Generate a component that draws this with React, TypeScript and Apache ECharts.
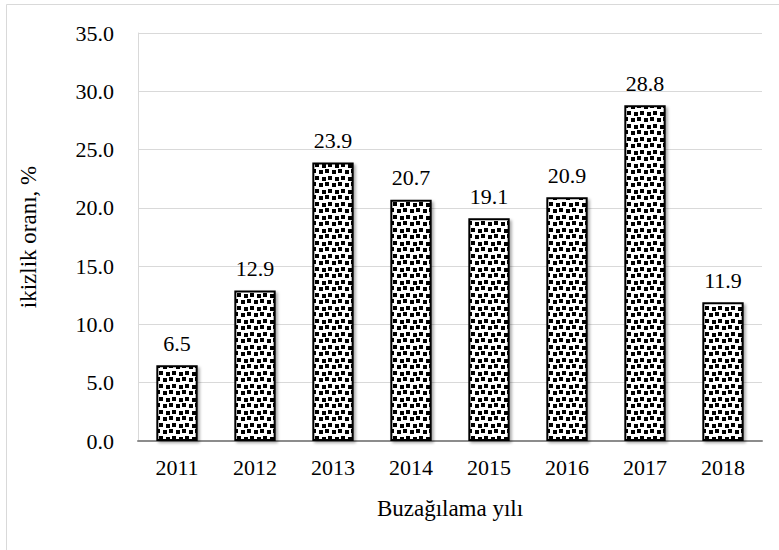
import React, { useEffect, useRef } from "react";
import * as echarts from "echarts";

const categories = ["2011", "2012", "2013", "2014", "2015", "2016", "2017", "2018"];
const values = [6.5, 12.9, 23.9, 20.7, 19.1, 20.9, 28.8, 11.9];
const yAxisTitle = "ikizlik oranı, %";
const xAxisTitle = "Buzağılama yılı";

const FONT = "'Liberation Serif', 'Times New Roman', serif";

function makePattern(): HTMLCanvasElement {
  const T = 13;
  const c = document.createElement("canvas");
  c.width = T;
  c.height = T;
  const ctx = c.getContext("2d")!;
  ctx.fillStyle = "#ffffff";
  ctx.fillRect(0, 0, T, T);
  ctx.fillStyle = "#000000";
  const sq = [
    [0, 0],
    [7, 1],
    [3, 7],
    [10, 8],
  ];
  sq.forEach(([x, y]) => {
    ctx.fillRect(x, y, 4, 4);
    if (x + 4 > T) ctx.fillRect(x - T, y, 4, 4);
  });
  return c;
}

export default function App() {
  const ref = useRef<HTMLDivElement>(null);
  useEffect(() => {
    document.body.style.margin = "0";
    const chart = echarts.init(ref.current!, null, { renderer: "svg" });
    const pattern = makePattern();
    chart.setOption({
      animation: false,
      backgroundColor: "#ffffff",
      graphic: [
        {
          type: "rect",
          shape: { x: 6.5, y: 4.5, width: 900, height: 700 },
          style: { fill: "none", stroke: "#d9d9d9", lineWidth: 1 },
          silent: true,
        },
      ],
      grid: { left: 138, right: 17, top: 33, bottom: 109 },
      xAxis: {
        type: "category",
        data: categories,
        name: xAxisTitle,
        nameLocation: "middle",
        nameGap: 56,
        nameTextStyle: { fontFamily: FONT, fontSize: 23, color: "#000" },
        axisLine: { lineStyle: { color: "#8c8c8c", width: 2 } },
        axisTick: { show: false },
        axisLabel: { fontFamily: FONT, fontSize: 22, color: "#000", margin: 15 },
      },
      yAxis: {
        type: "value",
        min: 0,
        max: 35,
        interval: 5,
        name: yAxisTitle,
        nameLocation: "middle",
        nameGap: 98,
        nameRotate: 90,
        nameTextStyle: { fontFamily: FONT, fontSize: 23, color: "#000" },
        axisLine: { show: true, lineStyle: { color: "#d9d9d9", width: 1 } },
        axisTick: { show: false },
        splitLine: { lineStyle: { color: "#d9d9d9", width: 1 } },
        axisLabel: {
          fontFamily: FONT,
          fontSize: 22,
          color: "#000",
          margin: 24,
          formatter: (v: number) => v.toFixed(1),
        },
      },
      series: [
        {
          type: "bar",
          data: values,
          barWidth: "53%",
          itemStyle: {
            color: { image: pattern, repeat: "repeat" },
            borderColor: "#000",
            borderWidth: 2,
            shadowBlur: 3,
            shadowOffsetX: 2,
            shadowOffsetY: 2,
            shadowColor: "rgba(0,0,0,0.35)",
          },
          label: {
            show: true,
            position: "top",
            distance: 11,
            fontFamily: FONT,
            fontSize: 22,
            color: "#000",
            formatter: (p: any) => Number(p.value).toFixed(1),
          },
        },
      ],
    });
    return () => chart.dispose();
  }, []);
  return <div ref={ref} style={{ width: 779, height: 550 }} />;
}
